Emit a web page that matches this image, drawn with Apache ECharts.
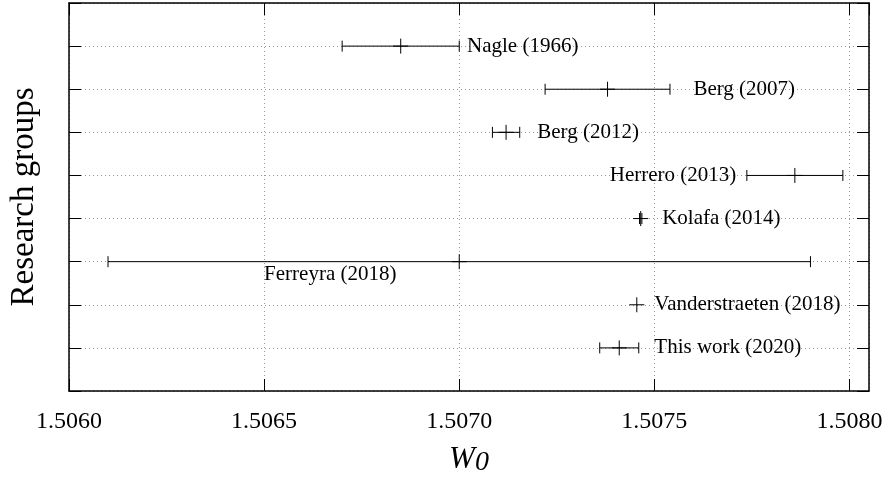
<!DOCTYPE html>
<html>
<head>
<meta charset="utf-8">
<script src="https://cdn.jsdelivr.net/npm/echarts@6/dist/echarts.min.js"></script>
<style>
html,body{margin:0;padding:0;background:#fff;}
#chart{width:888px;height:485px;}
</style>
</head>
<body>
<div id="chart"></div>
<script>
// ---- data ----
var groups = ['Nagle (1966)', 'Berg (2007)', 'Berg (2012)', 'Herrero (2013)', 'Kolafa (2014)', 'Ferreyra (2018)', 'Vanderstraeten (2018)', 'This work (2020)'];
var rows = [8, 7, 6, 5, 4, 3, 2, 1];
var w0 = [1.50685, 1.50738, 1.50712, 1.50786, 1.507465, 1.5070, 1.507455, 1.50741];
var err = [0.00015, 0.00016, 0.000035, 0.000123, 0.000003, 0.0009, 0, 0.00005];
var labelX = [1.50702, 1.5076, 1.5072, 1.50771, 1.50752, 1.5065, 1.5075, 1.5075];
var labelSide = ['right', 'right', 'right', 'left', 'right', 'below', 'right', 'right'];
var xTicks = [1.5060, 1.5065, 1.5070, 1.5075, 1.5080];

var FONT = '"Liberation Serif", "Times New Roman", serif';

var seriesData = groups.map(function (g, i) {
  return [w0[i], rows[i], err[i], labelX[i], i];
});

function renderItem(params, api) {
  var v = api.value(0), y = api.value(1), e = api.value(2), lx = api.value(3), idx = api.value(4);
  var pLo = api.coord([v - e, y]);
  var pHi = api.coord([v + e, y]);
  var pC = api.coord([v, y]);
  var pL = api.coord([lx, y]);
  var cap = 5.5, mid = 7.5, plus = 7.5;
  var st = {stroke: '#000', lineWidth: 1};
  var side = labelSide[idx];
  var children = [
    {type: 'line', shape: {x1: pLo[0], y1: pLo[1], x2: pHi[0], y2: pHi[1]}, style: st},
    {type: 'line', shape: {x1: pC[0] - plus, y1: pC[1], x2: pC[0] + plus, y2: pC[1]}, style: st},
    {type: 'line', shape: {x1: pC[0], y1: pC[1] - mid, x2: pC[0], y2: pC[1] + mid}, style: st}
  ];
  if (e > 0) {
    children.push({type: 'line', shape: {x1: pLo[0], y1: pLo[1] - cap, x2: pLo[0], y2: pLo[1] + cap}, style: st});
    children.push({type: 'line', shape: {x1: pHi[0], y1: pHi[1] - cap, x2: pHi[0], y2: pHi[1] + cap}, style: st});
  }
  children.push({
    type: 'text',
    style: {
      text: groups[idx], x: pL[0], y: pL[1] + (side === 'below' ? 2 : 0),
      fill: '#000', font: '21px ' + FONT,
      align: side === 'left' ? 'right' : 'left',
      verticalAlign: side === 'below' ? 'top' : 'middle'
    }
  });
  return {type: 'group', children: children};
}

var xBase = {
  type: 'value', min: 1.5060, max: 1.50805, interval: 0.0005,
  axisLine: {show: true, onZero: false, lineStyle: {color: '#000', width: 1.5}},
  axisTick: {show: true, inside: true, length: 12, lineStyle: {color: '#000', width: 1}},
  splitLine: {show: false}
};

var chart = echarts.init(document.getElementById('chart'), null, {renderer: 'canvas'});
chart.setOption({
  animation: false,
  backgroundColor: '#fff',
  grid: {left: 69, right: 19, top: 3, bottom: 94, containLabel: false},
  xAxis: [
    Object.assign({}, xBase, {
      position: 'bottom',
      axisLabel: {
        show: true, margin: 19, color: '#000', fontSize: 24, fontFamily: FONT,
        showMaxLabel: false,
        formatter: function (v) { return v.toFixed(4); }
      },
      splitLine: {show: true, lineStyle: {color: '#999', width: 1, type: [1, 3]}},
      name: '{w|W}{s|0}', nameLocation: 'middle', nameGap: 52,
      nameTextStyle: {
        rich: {
          w: {fontFamily: FONT, fontStyle: 'italic', fontSize: 31, color: '#000'},
          s: {fontFamily: FONT, fontStyle: 'italic', fontSize: 28, color: '#000', padding: [6, 0, 0, 0]}
        }
      }
    }),
    Object.assign({}, xBase, {position: 'top', axisLabel: {show: false}})
  ],
  yAxis: [
    {
      type: 'value', min: 0, max: 9, interval: 1, position: 'left',
      axisLine: {show: true, onZero: false, lineStyle: {color: '#000', width: 1.5}},
      axisTick: {show: true, inside: true, length: 12, lineStyle: {color: '#000', width: 1}},
      axisLabel: {show: false},
      splitLine: {show: true, lineStyle: {color: '#999', width: 1, type: [1, 3]}},
      name: 'Research groups', nameLocation: 'middle', nameGap: 28, nameRotate: 90,
      nameTextStyle: {fontFamily: FONT, fontSize: 33, color: '#000'}
    },
    {
      type: 'value', min: 0, max: 9, interval: 1, position: 'right',
      axisLine: {show: true, onZero: false, lineStyle: {color: '#000', width: 1.5}},
      axisTick: {show: true, inside: true, length: 12, lineStyle: {color: '#000', width: 1}},
      axisLabel: {show: false},
      splitLine: {show: false}
    }
  ],
  series: [{
    type: 'custom',
    xAxisIndex: 0, yAxisIndex: 0,
    renderItem: renderItem,
    encode: {x: 0, y: 1},
    data: seriesData,
    clip: false,
    z: 10
  }]
});
</script>
</body>
</html>
